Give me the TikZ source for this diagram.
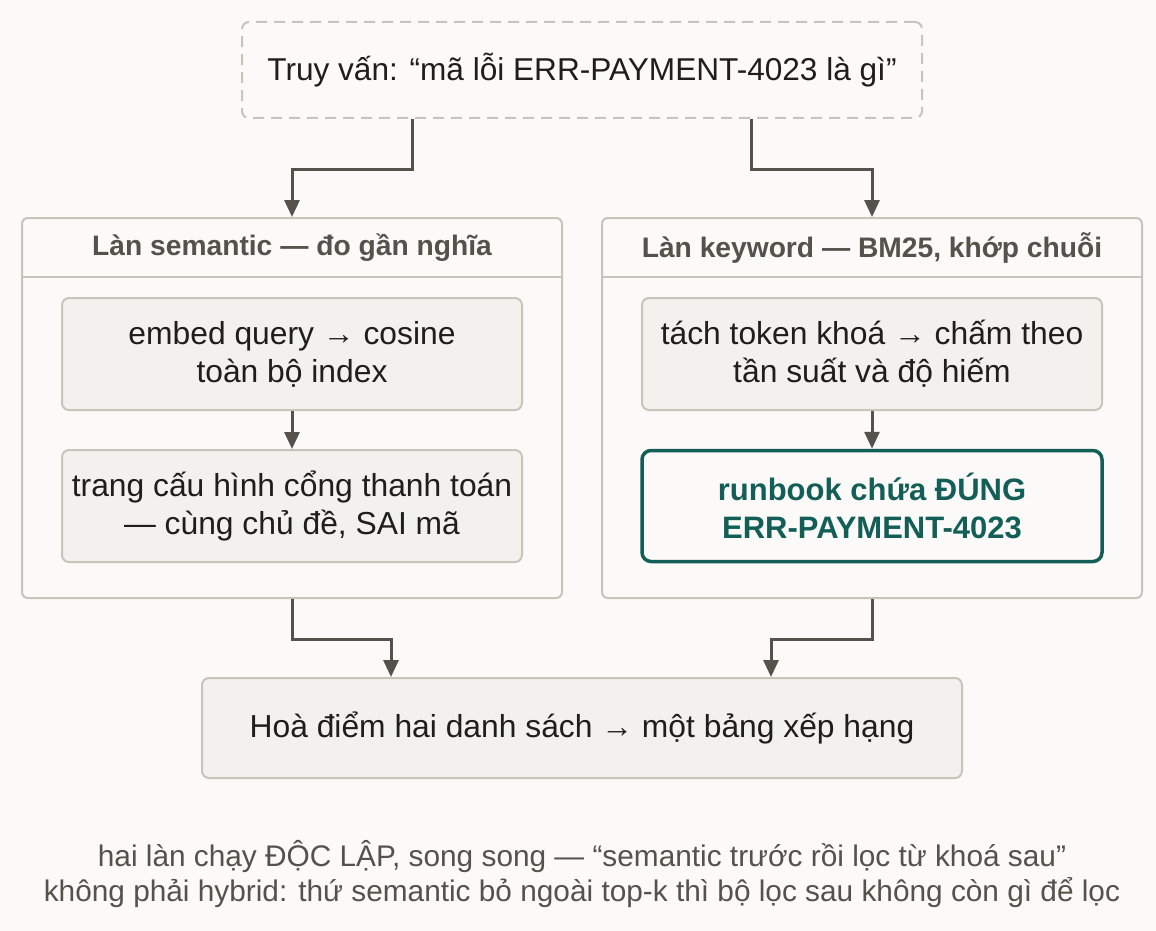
\documentclass[tikz,border=0pt]{standalone}
\usepackage{fontspec}
\setmainfont{Liberation Sans}
\usetikzlibrary{arrows.meta}
\definecolor{bgc}{HTML}{FBFAF8}
\definecolor{bordc}{HTML}{C9C4B9}
\definecolor{innerc}{HTML}{F2F1EE}
\definecolor{darkc}{HTML}{55524B}
\definecolor{txtc}{HTML}{1E1E1C}
\definecolor{tealc}{HTML}{135E57}
\tikzset{
  qbox/.style={draw=bordc, line width=2pt, dash pattern=on 11pt off 7pt, rounded corners=7pt, fill=bgc, text=txtc, font=\fontsize{31.6}{36}\selectfont},
  lanebox/.style={draw=bordc, line width=2pt, rounded corners=6pt, fill=bgc},
  headtxt/.style={text=darkc, font=\fontsize{28.2}{32}\selectfont\bfseries},
  innerbox/.style={draw=bordc, line width=2pt, rounded corners=7pt, fill=innerc, text=txtc, align=center, font=\fontsize{31.8}{38}\selectfont},
  goodbox/.style={draw=tealc, line width=3.5pt, rounded corners=9pt, fill=bgc, text=tealc, align=center, font=\fontsize{31}{38}\selectfont\bfseries},
  arr/.style={draw=darkc, line width=3pt, -{Triangle[length=17pt,width=15pt]}},
  foot/.style={text=darkc, align=center, font=\fontsize{29.8}{35}\selectfont}
}
\begin{document}
\begin{tikzpicture}[x=1pt,y=-1pt]
\fill[bgc] (0,0) rectangle (1156,931);
\useasboundingbox (0,0) rectangle (1156,931);

\node[qbox, minimum width=680pt, minimum height=96pt] (q) at (582,70) {Truy vấn: “mã lỗi ERR-PAYMENT-4023 là gì”};

\node[lanebox, minimum width=540pt, minimum height=380pt] (L) at (292,408) {};
\node[lanebox, minimum width=540pt, minimum height=380pt] (R) at (872,408) {};
\node[headtxt] (Lh) at (292,248) {Làn semantic — đo gần nghĩa};
\node[headtxt] (Rh) at (872,248) {Làn keyword — BM25, khớp chuỗi};
\draw[bordc, line width=2pt] ([yshift=-60pt]L.north west) -- ([yshift=-60pt]L.north east);
\draw[bordc, line width=2pt] ([yshift=-60pt]R.north west) -- ([yshift=-60pt]R.north east);

\node[innerbox, minimum width=460pt, minimum height=112pt] (L1) at (292,354) {embed query → cosine\\toàn bộ index};
\node[innerbox, minimum width=460pt, minimum height=112pt] (L2) at (292,506) {trang cấu hình cổng thanh toán\\— cùng chủ đề, SAI mã};
\node[innerbox, minimum width=460pt, minimum height=112pt] (R1) at (872,354) {tách token khoá → chấm theo\\tần suất và độ hiếm};
\node[goodbox, minimum width=460pt, minimum height=111pt] (R2) at (872,506) {runbook chứa ĐÚNG\\ERR-PAYMENT-4023};

\node[innerbox, minimum width=760pt, minimum height=100pt] (H) at (582,728) {Hoà điểm hai danh sách → một bảng xếp hạng};

\node[foot] (F) at (582,874) {hai làn chạy ĐỘC LẬP, song song — “semantic trước rồi lọc từ khoá sau”\\không phải hybrid: thứ semantic bỏ ngoài top-k thì bộ lọc sau không còn gì để lọc};

\draw[arr] ([xshift=-170pt]q.south) -- ++(0,50) -| (L.north);
\draw[arr] ([xshift=169pt]q.south) -- ++(0,50) -| (R.north);
\draw[arr] (L1) -- (L2);
\draw[arr] (R1) -- (R2);
\draw[arr] (L.south) -- ++(0,40) -| ([xshift=-191pt]H.north);
\draw[arr] (R.south) -- ++(0,40) -| ([xshift=189pt]H.north);
\end{tikzpicture}
\end{document}
